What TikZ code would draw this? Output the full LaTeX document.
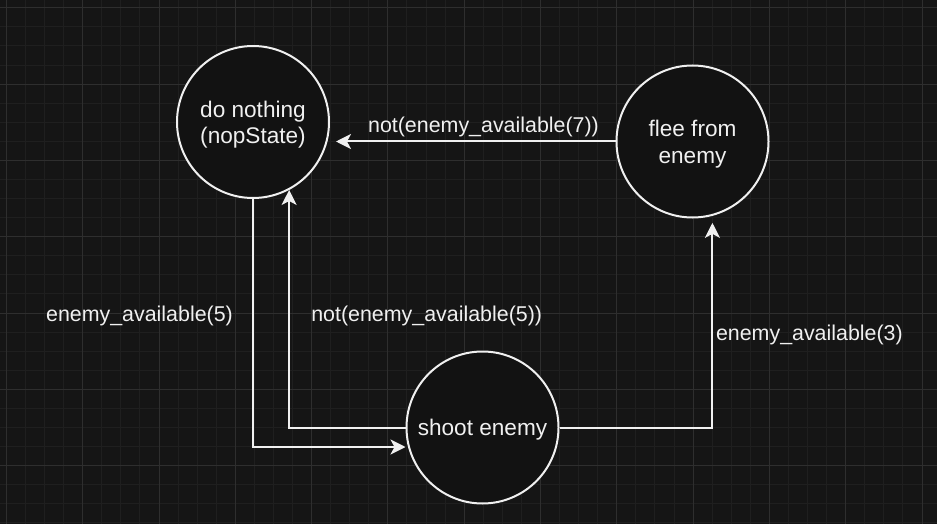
\documentclass[tikz,border=0pt]{standalone}
\usepackage{fontspec}
\setmainfont{Liberation Sans}
\usetikzlibrary{arrows.meta}
\definecolor{bg}{HTML}{151515}
\definecolor{gridminor}{HTML}{1F1F1F}
\definecolor{gridmajor}{HTML}{2E2E2E}
\definecolor{fg}{HTML}{F0F0F0}
\definecolor{nodefill}{HTML}{121212}
\newcommand\lineone[1]{\raisebox{-8pt}[0pt][0pt]{#1}}
\newcommand\linetwo[2]{\raisebox{5pt}[0pt][0pt]{\begin{tabular}[t]{@{}c@{}}#1\\#2\end{tabular}}}
\begin{document}
\begin{tikzpicture}[x=1pt,y=-1pt,
  state/.style={circle, draw=fg, line width=2pt, fill=nodefill, minimum size=152pt, inner sep=0pt, text=fg, font=\fontsize{22.6}{27}\selectfont},
  edge/.style={draw=fg, line width=2pt, -{Stealth[length=15pt,width=15pt,inset=4pt]}},
  lbl/.style={text=fg, font=\fontsize{21.4}{25}\selectfont, anchor=base, inner sep=0pt}]
\useasboundingbox (0,0) rectangle (937,524);
\fill[bg] (0,0) rectangle (937,524);
\foreach \i in {0,...,49} \draw[gridminor, line width=1pt] ({6.4+(\i-1)*19.075},0) -- ++(0,524);
\foreach \j in {0,...,28} \draw[gridminor, line width=1pt] (0,{7.8+(\j-1)*19.075}) -- ++(937,0);
\foreach \i in {0,...,12} \draw[gridmajor, line width=1pt] ({6.4+\i*76.3},0) -- ++(0,524);
\foreach \j in {0,...,6} \draw[gridmajor, line width=1pt] (0,{7.8+\j*76.3}) -- ++(937,0);

\node[state] (dn) at (253,122) {\linetwo{do nothing}{(nopState)}};
\node[state] (flee) at (692.5,141.5) {\linetwo{flee from}{enemy}};
\node[state] (shoot) at (482.5,427.5) {\lineone{shoot enemy}};

\coordinate (c1) at (253,447);
\draw[edge] (dn.south) -- (c1) -- (c1 -| shoot.west);
\draw[edge] (shoot.west) -| (dn.-62);
\draw[edge, shorten >=6pt] (flee.west) -- (flee.west -| dn.east);
\draw[edge, shorten >=7pt] (shoot.east) -| (flee.-75);

\node[lbl] (l1) at (139.5,321.5) {enemy\_available(5)};
\node[lbl] (l2) at (426.7,321.5) {not(enemy\_available(5))};
\node[lbl] (l3) at (483.5,132.3) {not(enemy\_available(7))};
\node[lbl] (l4) at (809.4,340) {enemy\_available(3)};
\end{tikzpicture}
\end{document}
